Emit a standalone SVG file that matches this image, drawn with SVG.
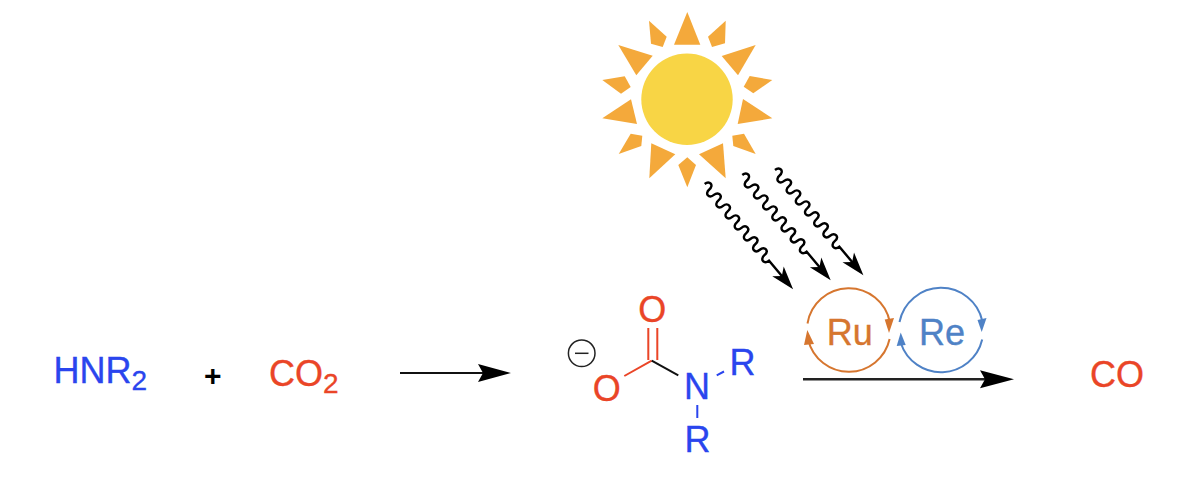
<svg xmlns="http://www.w3.org/2000/svg" xmlns:xlink="http://www.w3.org/1999/xlink" width="1198" height="488" viewBox="0 0 1198 488">
<style>
text{font-family:"Liberation Sans",Arial,sans-serif;font-size:36px;stroke-width:.35px}
.sub{font-size:28px}
.blue{fill:#2a45ee;stroke:#2a45ee}.red{fill:#ea4527;stroke:#ea4527}
.ray{fill:#f4a93b}
.b{fill:none;stroke-width:2}
.ru{fill:none;stroke:#d6762f;stroke-width:2}
.re{fill:none;stroke:#4f82c6;stroke-width:2}
.wave{fill:none;stroke:#000;stroke-width:2.400}
</style>
<defs>
<g id="ray-arrow">
<path class="wave" d="M0 0c0 -6.500 7.150 -6.500 7.150 0s7.150 6.500 7.150 0s7.150 -6.500 7.150 0s7.150 6.500 7.150 0s7.150 -6.500 7.150 0s7.150 6.500 7.150 0s7.150 -6.500 7.150 0s7.150 6.500 7.150 0s7.150 -6.500 7.150 0s7.150 6.500 7.150 0s7.150 -6.500 7.150 0s7.150 6.500 7.150 0s7.150 -6.500 7.150 0s7.150 6.500 7.150 0L122 0"/>
<polygon points="137.500,0 114,-7.500 120,0 114,7.500"/>
</g>
</defs>
<rect width="1198" height="488" fill="#fff"/>
<g id="sun">
<circle cx="687" cy="99.3" r="45.7" fill="#f8d545"/>
<polygon class="ray" points="687.3,12 700.3,44.7 674,44.7"/>
<polygon class="ray" points="725.7,20.7 725,43.3 712,47 708,36.7"/>
<polygon class="ray" points="649,20.7 666.7,36.7 662.7,47 651,43.7"/>
<polygon class="ray" points="755.7,45 738,75.3 721.7,56"/>
<polygon class="ray" points="618.3,45 652.7,55.7 636.3,75.3"/>
<polygon class="ray" points="749.7,76 772.3,80 753.3,93.3 743.7,86.7"/>
<polygon class="ray" points="602.3,80 624.7,76.3 630.7,87 621,93.7"/>
<polygon class="ray" points="602.3,118.3 631,99.3 637,124"/>
<polygon class="ray" points="743,99 772.3,118.3 737.7,124"/>
<polygon class="ray" points="630.7,133.7 642.3,135.7 641.3,146 618.7,154"/>
<polygon class="ray" points="732.3,135.7 744,133.7 755.7,154 733.3,146"/>
<polygon class="ray" points="651.3,143.3 675.3,154.3 649.3,178.3"/>
<polygon class="ray" points="723,143.3 725.7,178.3 699,154.3"/>
<polygon class="ray" points="687.3,157.3 696,165 687.3,187.3 678.3,165"/>
</g>
<g id="connectors">
<use xlink:href="#ray-arrow" href="#ray-arrow" transform="translate(704.7 184) rotate(50)"/>
<use xlink:href="#ray-arrow" href="#ray-arrow" transform="translate(742.3 175) rotate(50)"/>
<use xlink:href="#ray-arrow" href="#ray-arrow" transform="translate(775 170) rotate(50)"/>
<path d="M400 373H485" stroke="#111" stroke-width="2" fill="none"/>
<polygon points="511,373 478,364 483,373 478,382"/>
<path d="M803 379.300H990" stroke="#222" stroke-width="2.500" fill="none"/>
<polygon points="1014,379.300 980,370.300 985,379.300 980,388.300"/>
</g>
<g id="hnr2"><text class="blue" x="53.500" y="383">HNR<tspan class="sub" dy="6.500">2</tspan></text></g>
<g id="plus"><text x="212.700" y="385.500" text-anchor="middle" font-weight="700" style="font-size:30px">+</text></g>
<g id="co2"><text class="red" x="269" y="386">CO<tspan class="sub" dy="6.500">2</tspan></text></g>
<g id="carbamate">
<circle cx="581.700" cy="353.300" r="13.300" fill="none" stroke="#222" stroke-width="1.500"/>
<path d="M575 353.300H588.500" stroke="#222" stroke-width="1.500"/>
<text class="red" x="652.300" y="321.500" text-anchor="middle">O</text>
<text class="red" x="606.700" y="400.500" text-anchor="middle">O</text>
<text class="blue" x="697" y="399" text-anchor="middle">N</text>
<text class="blue" x="729.500" y="374.500">R</text>
<text class="blue" x="684.500" y="452">R</text>
<path class="b" stroke="#ea4527" d="M648.300 328V360M657.300 328V360M651.700 360.700L624.300 376"/>
<path class="b" stroke="#111" d="M651.700 360.700L678.300 375.300"/>
<path class="b" stroke="#2a45ee" d="M716.700 375.300L724 371.500M697.300 405V418"/>
</g>
<g id="ru">
<path class="ru" d="M807.500 323.500A41.800 41.800 0 0 1 889.800 322"/>
<path class="ru" d="M889.600 339A41.800 41.800 0 0 1 808.200 340"/>
<polygon fill="#d6762f" points="889,333 884.700,319.500 894,318"/>
<polygon fill="#d6762f" points="807.300,330 804,345 814,344"/>
<text x="849.700" y="345" text-anchor="middle" fill="#d6762f" stroke="#d6762f">Ru</text>
</g>
<g id="re">
<path class="re" d="M899.500 322A42.300 42.300 0 0 1 982.300 321"/>
<path class="re" d="M982.200 339.500A42.300 42.300 0 0 1 900.800 343"/>
<polygon fill="#4f82c6" points="981.700,332 977.500,320 986.500,318"/>
<polygon fill="#4f82c6" points="900.700,332.500 896.700,346 905.700,345"/>
<text x="942" y="345" text-anchor="middle" fill="#4f82c6" stroke="#4f82c6">Re</text>
</g>
<g id="co"><text class="red" x="1090" y="387">CO</text></g>
</svg>
